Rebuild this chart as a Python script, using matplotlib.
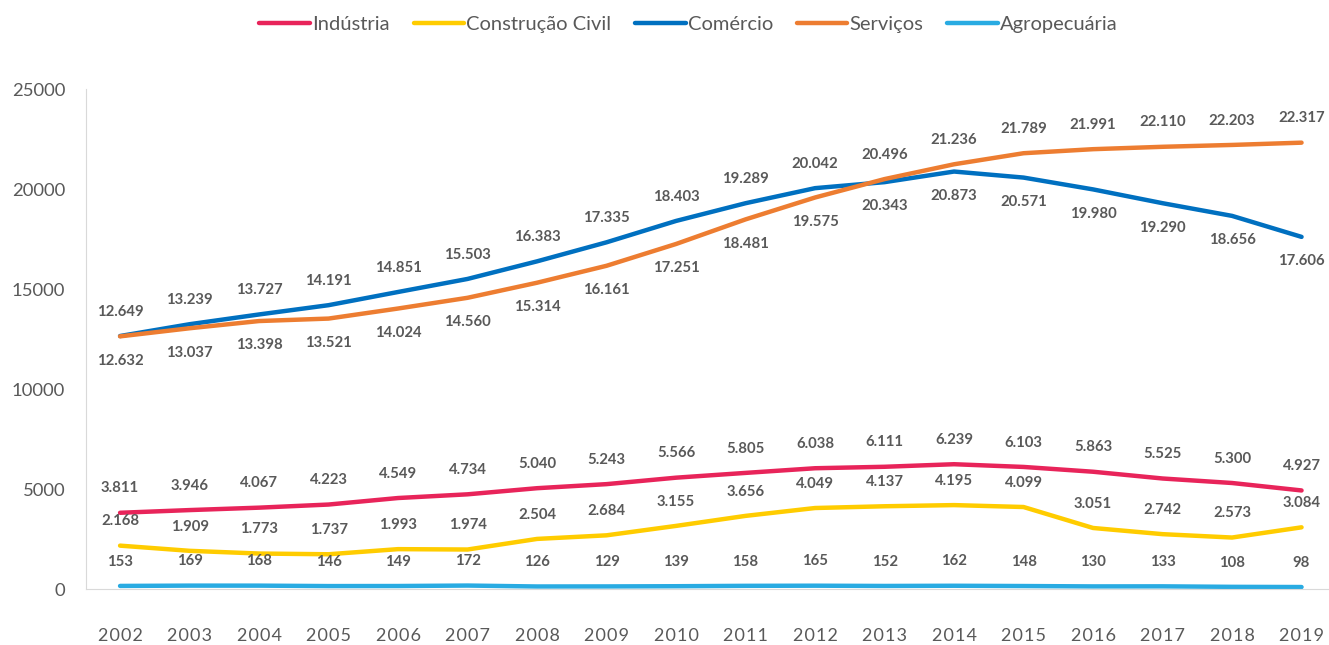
import numpy as np
import matplotlib.pyplot as plt

years = [str(y) for y in range(2002, 2020)]

industria = [3811, 3946, 4067, 4223, 4549, 4734, 5040, 5243, 5566, 5805, 6038, 6111, 6239, 6103, 5863, 5525, 5300, 4927]
construcao = [2168, 1909, 1773, 1737, 1993, 1974, 2504, 2684, 3155, 3656, 4049, 4137, 4195, 4099, 3051, 2742, 2573, 3084]
comercio = [12649, 13239, 13727, 14191, 14851, 15503, 16383, 17335, 18403, 19289, 20042, 20343, 20873, 20571, 19980, 19290, 18656, 17606]
servicos = [12632, 13037, 13398, 13521, 14024, 14560, 15314, 16161, 17251, 18481, 19575, 20496, 21236, 21789, 21991, 22110, 22203, 22317]
agro = [153, 169, 168, 146, 149, 172, 126, 129, 139, 158, 165, 152, 162, 148, 130, 133, 108, 98]

names = ['Indústria', 'Construção Civil', 'Comércio', 'Serviços', 'Agropecuária']
colors = ['#E8245A', '#FFCC00', '#0070C0', '#ED7D31', '#29ABE2']

# label above (+1) or below (-1) the line, like excel placed them
pos_ind = [1] * 18
pos_con = [1] * 18
pos_com = [1] * 11 + [-1] * 7
pos_ser = [-1] * 11 + [1] * 7
pos_agr = [1] * 18

def fmt(v):
    return '{:,}'.format(v).replace(',', '.')

fig = plt.figure(figsize=(13.29, 6.45), dpi=100)
ax = fig.add_axes([86 / 1329, 56 / 645, 1243 / 1329, 500 / 645])

x = np.arange(len(years))
series = [industria, construcao, comercio, servicos, agro]
positions = [pos_ind, pos_con, pos_com, pos_ser, pos_agr]
for vals, pos, name, c in zip(series, positions, names, colors):
    ax.plot(x, vals, color=c, lw=3.2, label=name, solid_capstyle='round', solid_joinstyle='round')
    for xi, v, p in zip(x, vals, pos):
        ax.annotate(fmt(v), (xi, v), xytext=(0, 17.5 * p), textcoords='offset points',
                    ha='center', va='center', fontsize=10.7, fontweight='bold',
                    color='#595959', family='Lato')

ax.set_xlim(-0.49, -0.49 + 1243 / 69.5)
ax.set_ylim(0, 25000)
ax.set_yticks([0, 5000, 10000, 15000, 20000, 25000])
ax.set_yticklabels(['0', '5000', '10000', '15000', '20000', '25000'], family='Lato', fontsize=13.3, color='#595959')
ax.set_xticks(x)
ax.set_xticklabels(['\u200a'.join(y) for y in years], family=['Lato', 'DejaVu Sans'], fontsize=13, color='#595959')
ax.tick_params(axis='both', length=0)
ax.tick_params(axis='x', pad=28)
ax.tick_params(axis='y', pad=15)

for s in ['top', 'right']:
    ax.spines[s].set_visible(False)
ax.spines['left'].set_color('#D9D9D9')
ax.spines['bottom'].set_color('#D9D9D9')

fig.legend(loc='upper center', bbox_to_anchor=(0.518, 1.003), ncol=5, frameon=False,
           prop={'family': 'Lato', 'size': 14.5}, labelcolor='#595959',
           handlelength=2.5, handletextpad=0.1, columnspacing=1.2)

fig.savefig('out.png', dpi=100)
